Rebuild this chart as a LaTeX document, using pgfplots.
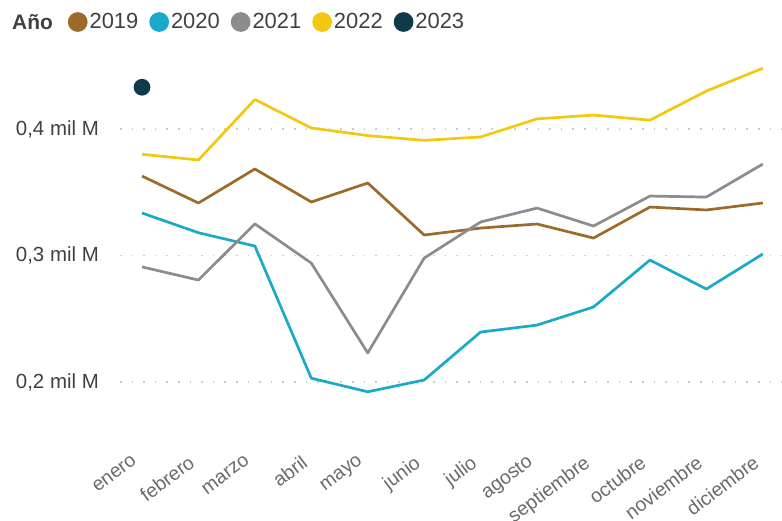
\documentclass[border=0pt]{standalone}
\usepackage{fontspec}
\setmainfont{Liberation Sans}
\usepackage{pgfplots}
\pgfplotsset{compat=1.18}

\definecolor{c2019}{HTML}{9E6A2C}
\definecolor{c2020}{HTML}{1BA9C9}
\definecolor{c2021}{HTML}{8C8C8C}
\definecolor{c2022}{HTML}{F2C811}
\definecolor{c2023}{HTML}{0E3A4A}
\definecolor{ylab}{HTML}{404040}
\definecolor{xlab}{HTML}{6A6A6A}

\begin{document}
\begin{tikzpicture}
\useasboundingbox (-120bp,-89bp) rectangle (662bp,432bp);
\begin{axis}[
    at={(0,0)}, anchor=south west,
    scale only axis,
    width=662bp, height=387bp,
    xmin=-0.39, xmax=11.34,
    ymin=0.1605, ymax=0.4664,
    axis x line*=bottom, axis y line*=left,
    axis line style={draw=none},
    major tick length=0pt,
    xtick={0,...,11},
    xticklabels={enero,febrero,marzo,abril,mayo,junio,julio,agosto,septiembre,octubre,noviembre,diciembre},
    xticklabel style={xshift=-11bp, yshift=-22bp, rotate=37, anchor=north east, inner sep=0pt,
        font=\fontsize{19.5}{22}\selectfont, text=xlab},
    ytick={0.2,0.3,0.4},
    yticklabels={{0,2 mil M},{0,3 mil M},{0,4 mil M}},
    yticklabel style={anchor=east, inner sep=0pt, xshift=-21bp,
        font=\fontsize{20.5}{24}\selectfont, text=ylab},
    ymajorgrids,
    major grid style={gray!40, line width=1.6bp, dash pattern=on 1.6bp off 10bp},
    every axis plot/.append style={line width=2.7bp, line join=round},
    legend columns=5,
    legend image code/.code={\fill[#1] (0bp,0bp) circle (8.5bp);},
    legend style={at={(axis description cs:-0.079,1.0594)}, anchor=west,
        draw=none, fill=none, inner sep=0pt,
        font=\fontsize{22}{26}\selectfont, text=ylab,
        nodes={inner sep=2bp},
        /tikz/every even column/.append style={column sep=9bp}},
    clip=false,
]
\addplot[color=c2019, mark=none] coordinates {
 (0,0.3628) (1,0.3415) (2,0.3684) (3,0.3423) (4,0.3573) (5,0.3162)
 (6,0.3217) (7,0.3249) (8,0.3138) (9,0.3383) (10,0.3360) (11,0.3415)};
\addlegendentry{2019}
\addplot[color=c2020, mark=none] coordinates {
 (0,0.3336) (1,0.3180) (2,0.3075) (3,0.2030) (4,0.1923) (5,0.2016)
 (6,0.2395) (7,0.2450) (8,0.2593) (9,0.2964) (10,0.2735) (11,0.3012)};
\addlegendentry{2020}
\addplot[color=c2021, mark=none] coordinates {
 (0,0.2910) (1,0.2806) (2,0.3250) (3,0.2940) (4,0.2230) (5,0.2980)
 (6,0.3265) (7,0.3375) (8,0.3233) (9,0.3470) (10,0.3462) (11,0.3723)};
\addlegendentry{2021}
\addplot[color=c2022, mark=none] coordinates {
 (0,0.3800) (1,0.3755) (2,0.4233) (3,0.4008) (4,0.3948) (5,0.3910)
 (6,0.3937) (7,0.4080) (8,0.4110) (9,0.4070) (10,0.4300) (11,0.4480)};
\addlegendentry{2022}
\addplot[color=c2023, only marks, mark=*, mark size=7bp] coordinates {(0,0.4330)};
\addlegendentry{2023}
\end{axis}
\node[anchor=west, inner sep=0pt, font=\fontsize{21}{25}\selectfont\bfseries, text=ylab] at (-108bp,410bp) {Año};
\end{tikzpicture}
\end{document}
